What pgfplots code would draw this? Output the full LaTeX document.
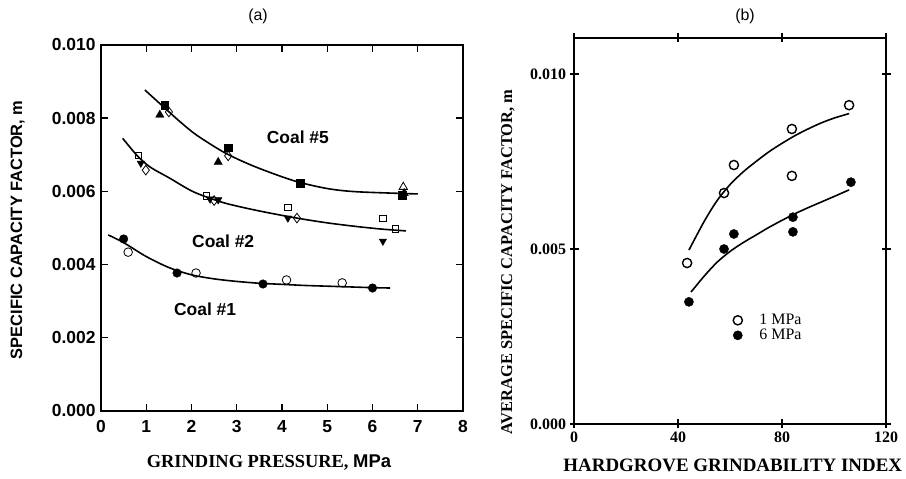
\documentclass[border=0pt]{standalone}
\usepackage{fontspec}
\setmainfont{Liberation Serif}
\setsansfont{Liberation Sans}
\usepackage{pgfplots}
\pgfplotsset{compat=1.18}
\begin{document}
\begin{tikzpicture}[x=1bp,y=1bp]
\useasboundingbox (0,0) rectangle (906,479);
\node[font=\sffamily\fontsize{16}{16}\selectfont] at (258,463) {(a)};
\node[font=\sffamily\fontsize{16}{16}\selectfont] at (745,463) {(b)};
% ---------------- (a) ----------------
\begin{axis}[
  at={(101bp,68bp)}, anchor=south west, scale only axis,
  width=362bp, height=366bp,
  xmin=0, xmax=8, ymin=0, ymax=0.010,
  xtick={0,1,2,3,4,5,6,7,8},
  ytick={0,0.002,0.004,0.006,0.008,0.010},
  scaled y ticks=false,
  yticklabel style={xshift=-2bp, /pgf/number format/.cd, fixed, fixed zerofill, precision=3},
  xticklabel style={yshift=-6bp},
  /pgf/number format/assume math mode=true,
  tick label style={font=\sffamily\bfseries\fontsize{17.5}{17.5}\selectfont},
  tick align=inside, major tick length=7bp,
  axis line style={line width=1.6bp}, tick style={line width=1.4bp, black},
  xlabel={\textbf{GRINDING PRESSURE,} {\sffamily\bfseries MPa}},
  xlabel style={at={(axis description cs:0.464,-0.142)}, anchor=center, font=\fontsize{18.5}{18.5}\selectfont},
  ylabel={SPECIFIC CAPACITY FACTOR, m},
  ylabel style={at={(axis description cs:-0.230,0.495)}, anchor=center, font=\sffamily\bfseries\fontsize{16.5}{16.5}\selectfont},
]
% fitted curves
\addplot[black, line width=1.6bp, smooth] coordinates {(0.97,0.00877) (1.38,0.00831) (1.75,0.00790) (2.11,0.00754) (2.70,0.00708) (3.22,0.00677) (3.73,0.00652) (4.32,0.00627) (4.99,0.00608) (5.65,0.00599) (7.0,0.00593)};
\addplot[black, line width=1.6bp, smooth] coordinates {(0.48,0.00745) (0.79,0.00699) (1.08,0.00667) (1.52,0.00636) (2.04,0.00599) (2.63,0.00572) (3.07,0.00558) (3.6,0.00544) (4.33,0.00527) (5.0,0.00514) (5.65,0.00504) (6.2,0.00497) (6.74,0.00492)};
\addplot[black, line width=1.6bp, smooth] coordinates {(0.16,0.00481) (0.5,0.00460) (1.0,0.00422) (1.5,0.00392) (2.0,0.00372) (2.5,0.00361) (3.0,0.00354) (3.5,0.00349) (4.0,0.00346) (4.5,0.00343) (5.0,0.00341) (5.5,0.00339) (6.0,0.00337) (6.39,0.00336)};
% Coal #5
\addplot[only marks, mark=square*, mark size=3.8bp, black] coordinates {(1.41,0.00836) (2.81,0.00719) (4.4,0.00623) (6.65,0.00590)};
\addplot[only marks, mark=triangle*, mark size=4.8bp, black] coordinates {(1.3,0.00809) (2.59,0.00680) (6.7,0.00595)};
\addplot[only marks, mark=diamond, mark size=4.8bp, black, thick] coordinates {(1.5,0.00817) (2.81,0.00697)};
\addplot[only marks, mark=triangle, mark size=4.8bp, black, thick] coordinates {(6.68,0.00612)};
% Coal #2
\addplot[only marks, mark=square, mark size=3.2bp, black, thick] coordinates {(0.83,0.00698) (2.33,0.00588) (4.13,0.00557) (6.23,0.00527) (6.5,0.00497)};
\addplot[only marks, mark=triangle*, mark options={rotate=180}, mark size=4.3bp, black] coordinates {(0.88,0.00677) (2.41,0.00579) (2.59,0.00577) (4.13,0.00527) (6.23,0.00464)};
\addplot[only marks, mark=diamond, mark size=4.8bp, black, thick] coordinates {(0.99,0.00658) (2.5,0.00575) (4.33,0.00527)};
% Coal #1
\addplot[only marks, mark=*, mark size=4.3bp, black] coordinates {(0.5,0.00470) (1.68,0.00377) (3.58,0.00347) (6.0,0.00336)};
\addplot[only marks, mark=o, mark size=4.3bp, black, thick] coordinates {(0.6,0.00434) (2.1,0.00377) (4.1,0.00358) (5.33,0.00350)};
\node[font=\sffamily\bfseries\fontsize{17.5}{17.5}\selectfont] at (axis cs:4.35,0.00749) {Coal \#5};
\node[font=\sffamily\bfseries\fontsize{17.5}{17.5}\selectfont] at (axis cs:2.7,0.00464) {Coal \#2};
\node[font=\sffamily\bfseries\fontsize{17.5}{17.5}\selectfont] at (axis cs:2.3,0.00279) {Coal \#1};
\end{axis}
% ---------------- (b) ----------------
\begin{axis}[
  at={(574bp,55bp)}, anchor=south west, scale only axis,
  width=312bp, height=386bp,
  xmin=0, xmax=120, ymin=0, ymax=0.01103,
  xtick={0,40,80,120},
  ytick={0,0.005,0.010},
  scaled y ticks=false,
  yticklabel style={/pgf/number format/.cd, fixed, fixed zerofill, precision=3},
  /pgf/number format/assume math mode=true,
  tick label style={font=\bfseries\fontsize{16}{16}\selectfont},
  tick align=center, major tick length=9bp,
  axis line style={line width=1.6bp}, tick style={line width=1.4bp, black},
  xlabel={HARDGROVE GRINDABILITY INDEX},
  xlabel style={at={(axis description cs:0.509,-0.106)}, anchor=center, font=\bfseries\fontsize{19}{19}\selectfont},
  ylabel={AVERAGE SPECIFIC CAPACITY FACTOR, m},
  ylabel style={at={(axis description cs:-0.212,0.420)}, anchor=center, font=\bfseries\fontsize{16.5}{16.5}\selectfont},
  legend style={at={(0.50,0.295)}, anchor=north west, draw=none, fill=none, font=\fontsize{16}{16}\selectfont, row sep=-1bp,
    /tikz/every odd column/.append style={column sep=15bp}},
  legend cell align=left,
]
\addplot[black, line width=1.6bp, smooth, forget plot] coordinates {(44.2,0.00497) (50,0.00578) (55,0.00638) (60,0.00684) (65,0.00720) (70,0.00750) (75,0.00778) (80,0.00802) (85,0.00824) (90,0.00843) (95,0.00860) (100,0.00874) (105.8,0.00887)};
\addplot[black, line width=1.6bp, smooth, forget plot] coordinates {(45,0.00377) (50,0.00422) (55,0.00462) (60,0.00493) (65,0.00518) (70,0.00540) (75,0.00562) (80,0.00582) (85,0.00601) (90,0.00618) (95,0.00634) (100,0.00650) (105.8,0.00669)};
\addplot[only marks, mark=o, mark size=4.6bp, black, line width=1.4bp] coordinates {(43.5,0.00460) (57.7,0.00660) (61.5,0.00740) (83.8,0.00843) (83.8,0.00709) (105.8,0.00911)};
\addlegendentry{1 MPa}
\addplot[only marks, mark=*, mark size=4.6bp, black] coordinates {(44.2,0.00349) (57.7,0.00500) (61.5,0.00543) (84.2,0.00591) (84.2,0.00549) (106.5,0.00691)};
\addlegendentry{6 MPa}
\end{axis}
\end{tikzpicture}
\end{document}
